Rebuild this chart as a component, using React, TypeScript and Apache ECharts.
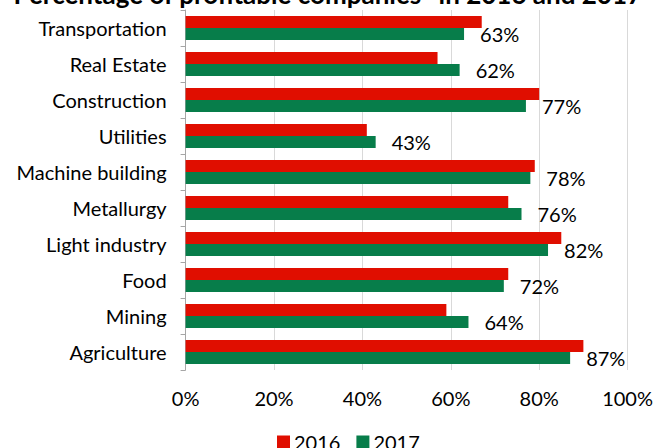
import React, { useEffect, useRef } from "react";
import * as echarts from "echarts";

const titleText = "Percentage of profitable companies* in 2016 and 2017";
const categories = [
  "Transportation",
  "Real Estate",
  "Construction",
  "Utilities",
  "Machine building",
  "Metallurgy",
  "Light industry",
  "Food",
  "Mining",
  "Agriculture",
];
const values2016 = [67, 57, 80, 41, 79, 73, 85, 73, 59, 90];
const values2017 = [63, 62, 77, 43, 78, 76, 82, 72, 64, 87];
const seriesNames = ["2016", "2017"];

const FONT = "Lato";

export default function App() {
  const ref = useRef<HTMLDivElement>(null);
  useEffect(() => {
    if (!ref.current) return;
    const chart = echarts.init(ref.current, undefined, { renderer: "svg" });
    chart.setOption({
      animation: false,
      backgroundColor: "#ffffff",
      graphic: [
        {
          type: "text",
          left: "center",
          top: -19,
          style: {
            text: titleText,
            font: `bold 26px ${FONT}`,
            fill: "#000000",
          },
        },
      ],
      legend: {
        data: seriesNames,
        left: 277,
        top: 432,
        padding: 0,
        icon: "rect",
        itemWidth: 13,
        itemHeight: 13,
        itemGap: 16,
        textStyle: { fontFamily: FONT, fontSize: 20, color: "#000000", padding: [0, 0, 0, -1] },
      },
      grid: { left: 185.6, right: 27, top: 10, bottom: 78, containLabel: false },
      xAxis: {
        type: "value",
        min: 0,
        max: 100,
        interval: 20,
        axisLine: { show: false },
        axisTick: { show: false },
        splitLine: { lineStyle: { color: "#d9d9d9", width: 1 } },
        axisLabel: {
          formatter: "{value}%",
          fontFamily: FONT,
          fontSize: 20,
          color: "#000000",
          margin: 18,
        },
      },
      yAxis: {
        type: "category",
        data: categories,
        inverse: true,
        axisLine: { show: true, lineStyle: { color: "#a6a6a6", width: 1 } },
        axisTick: { show: true, length: 5, lineStyle: { color: "#a6a6a6" } },
        axisLabel: {
          fontFamily: FONT,
          fontSize: 20,
          color: "#000000",
          margin: 19,
        },
      },
      series: [
        {
          name: seriesNames[0],
          type: "bar",
          data: values2016,
          barWidth: 12,
          barGap: "0%",
          barCategoryGap: "33%",
          itemStyle: { color: "#e00e00" },
        },
        {
          name: seriesNames[1],
          type: "bar",
          data: values2017,
          barWidth: 12,
          barGap: "0%",
          itemStyle: { color: "#077d4a" },
          label: {
            show: true,
            position: "right",
            distance: 16,
            formatter: "{c}%",
            fontFamily: FONT,
            fontSize: 20,
            color: "#000000",
          },
        },
      ],
    });
    return () => chart.dispose();
  }, []);
  return (
    <div
      ref={ref}
      style={{ position: "fixed", left: 0, top: 0, width: 656, height: 448 }}
    />
  );
}
